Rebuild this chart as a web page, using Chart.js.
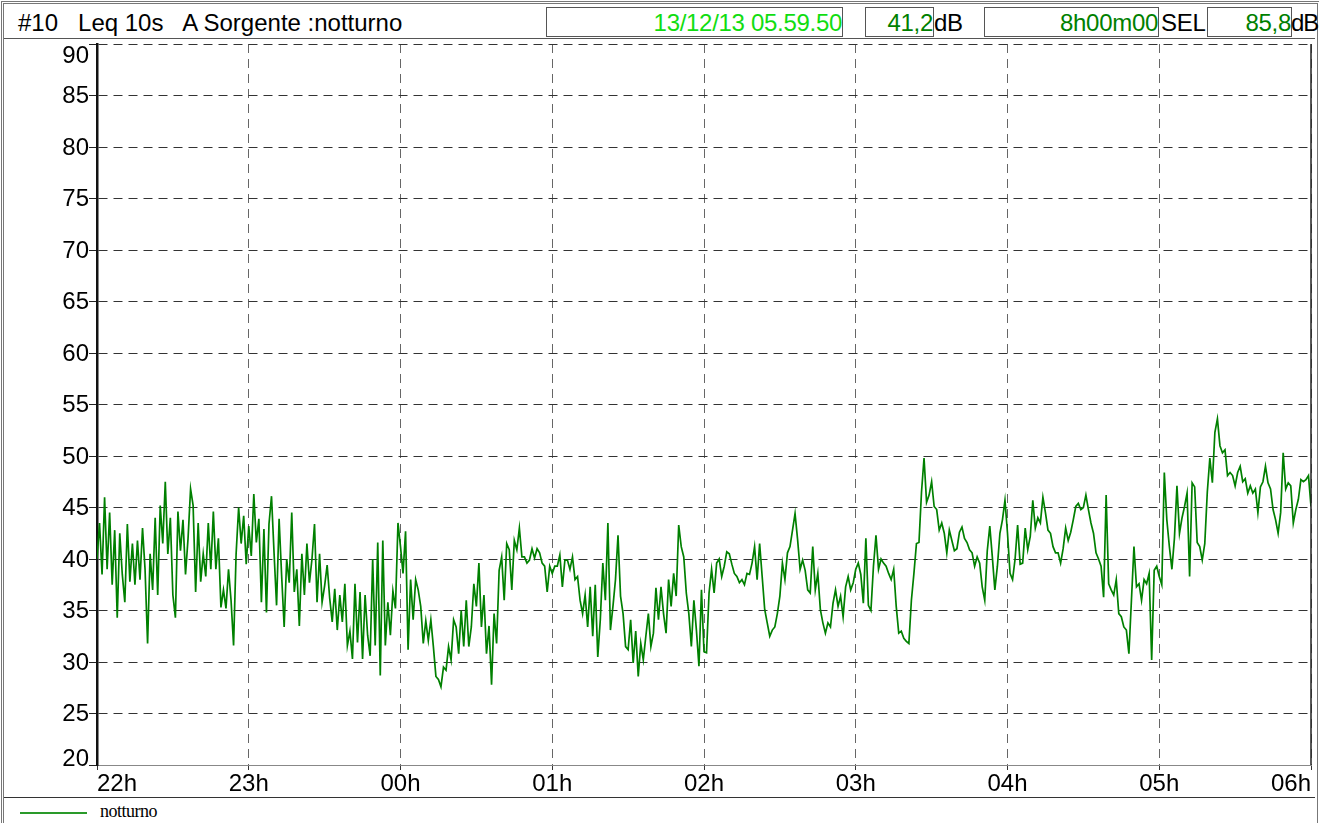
<!DOCTYPE html>
<html>
<head>
<meta charset="utf-8">
<script src="https://cdn.jsdelivr.net/npm/chart.js@4.4.1/dist/chart.umd.min.js"></script>
<style>
  html, body { margin: 0; padding: 0; background: #fff; }
  #page { position: relative; width: 1319px; height: 823px; overflow: hidden; background: #fff;
          font-family: "Liberation Sans", Arial, sans-serif; }
  #frame { position: absolute; left: 1px; top: 1px; width: 1313px; height: 830px;
           border: 3px double #777; box-sizing: content-box; }
  #header { position: absolute; left: 4px; top: 4px; width: 1311px; height: 34px;
            border-bottom: 1px solid #555; }
  .txt { position: absolute; top: 4px; font-size: 24px; line-height: 30px; white-space: pre; color: #000; letter-spacing: -0.3px; }
  .box { position: absolute; top: 3px; height: 30px; border: 1px solid #555; box-sizing: border-box;
         font-size: 24px; line-height: 29px; text-align: right; white-space: pre; color: #008000; letter-spacing: -0.3px; }
  #chartWrap { position: absolute; left: 4px; top: 38px; width: 1311px; height: 759px; }
  #legend { position: absolute; left: 4px; top: 797px; width: 1311px; height: 26px; border-top: 1px solid #333; }
  #legend .line { position: absolute; left: 16px; top: 14px; width: 67px; height: 0; border-top: 2px solid #2a9a2a; }
  #legend .lbl { position: absolute; left: 96px; top: 3px; font-family: "Liberation Serif", "Times New Roman", serif;
                 font-size: 18px; letter-spacing: -0.5px; color: #000; }
</style>
</head>
<body>
<div id="page">
  <div id="frame"></div>
  <div id="header">
    <div class="txt" style="left:14px;letter-spacing:0">#10   Leq 10s   A Sorgente :notturno</div>
    <div class="box" style="left:542px;width:297px;color:#11dd11">13/12/13 05.59.50</div>
    <div class="box" style="left:861px;width:69px">41,2</div>
    <div class="txt" style="left:930px">dB</div>
    <div class="box" style="left:980px;width:175px">8h00m00</div>
    <div class="txt" style="left:1157px">SEL</div>
    <div class="box" style="left:1203px;width:85px">85,8</div>
    <div class="txt" style="left:1287px;letter-spacing:-1px">dB</div>
  </div>
  <div id="chartWrap"><canvas id="chart"></canvas></div>
  <div id="legend"><div class="line"></div><div class="lbl">notturno</div></div>
</div>
<script>
// Leq 10s A, one value per minute
const hour22 = [40.0, 43.5, 38.5, 46.0, 39.0, 44.5, 37.5, 42.8, 34.3, 42.5, 38.5, 35.8, 43.4, 37.8, 41.5,
  37.5, 41.8, 38.0, 43.0, 39.0, 31.8, 40.5, 37.0, 44.0, 36.5, 45.2, 41.5, 47.5, 40.5, 44.0,
  36.5, 34.3, 44.6, 40.8, 43.8, 38.5, 42.0, 46.8, 45.2, 36.8, 43.5, 37.8, 40.5, 38.3, 43.5,
  39.0, 44.6, 39.0, 42.0, 35.3, 37.0, 35.2, 39.0, 36.0, 31.6, 40.5, 45.0, 41.5, 44.2, 39.5];
const hour23 = [43.2, 40.3, 46.3, 41.6, 43.9, 35.8, 42.9, 34.8, 43.4, 46.1, 40.6, 35.5, 43.9, 38.4, 33.4,
  40.0, 37.7, 44.5, 36.8, 39.0, 33.5, 40.5, 36.5, 41.5, 37.7, 40.0, 43.4, 35.8, 40.5, 35.8,
  37.4, 39.4, 36.2, 33.9, 37.1, 33.1, 36.5, 33.9, 37.6, 31.6, 33.0, 30.3, 37.6, 31.9, 36.8,
  30.3, 36.5, 32.6, 30.6, 40.0, 31.6, 41.6, 28.7, 41.8, 31.6, 35.8, 32.6, 36.9, 35.2, 43.5];
const hour00 = [41.2, 38.6, 42.7, 31.2, 38.0, 34.1, 38.0, 37.0, 35.4, 31.8, 34.0, 32.1, 34.1, 31.5, 28.6,
  28.3, 27.6, 29.5, 29.2, 31.5, 30.2, 34.1, 33.4, 30.8, 35.0, 31.5, 36.0, 31.5, 33.4, 37.6,
  35.4, 39.6, 33.4, 36.5, 30.8, 33.5, 27.8, 34.7, 31.8, 38.9, 40.2, 36.0, 41.5, 40.9, 37.0,
  41.8, 40.9, 43.0, 40.2, 40.2, 39.6, 39.9, 41.0, 40.1, 41.0, 40.6, 39.6, 39.3, 36.8, 39.3];
const hour01 = [38.6, 39.3, 39.3, 40.4, 37.3, 39.9, 39.9, 39.0, 40.2, 38.0, 38.3, 36.0, 34.7, 36.5, 33.4,
  37.3, 32.5, 37.5, 30.5, 34.1, 39.6, 36.0, 43.5, 33.1, 35.4, 38.0, 42.3, 36.4, 34.7, 31.5,
  31.2, 34.1, 29.9, 33.0, 28.6, 31.8, 30.2, 32.5, 34.7, 31.5, 32.8, 37.2, 34.1, 37.3, 34.7,
  32.8, 38.0, 35.4, 38.6, 36.4, 43.3, 41.2, 40.2, 36.7, 34.7, 31.5, 36.0, 33.1, 29.6, 37.0];
const hour02 = [31.0, 30.9, 36.7, 39.0, 36.7, 39.6, 40.0, 38.3, 39.3, 40.7, 40.5, 39.5, 38.6, 38.3, 37.7,
  38.0, 37.5, 38.6, 38.5, 39.6, 41.2, 38.0, 41.5, 38.3, 35.1, 33.8, 32.5, 33.1, 33.4, 34.7,
  36.4, 39.6, 38.0, 40.6, 41.2, 42.8, 44.4, 41.9, 39.0, 39.9, 38.9, 37.0, 36.7, 41.2, 37.0,
  38.6, 35.1, 33.8, 32.8, 33.8, 33.4, 35.7, 37.0, 35.4, 36.4, 34.4, 37.3, 38.3, 37.0, 37.7];
const hour03 = [39.0, 39.6, 38.5, 35.7, 42.0, 35.5, 35.0, 39.3, 42.3, 39.0, 40.0, 39.6, 39.3, 38.6, 38.0,
  39.0, 35.4, 32.8, 33.0, 32.3, 32.0, 31.8, 36.0, 38.6, 41.5, 41.6, 46.5, 49.8, 45.5, 46.2,
  47.5, 45.1, 44.8, 42.8, 43.5, 42.5, 40.6, 42.8, 41.8, 40.8, 41.0, 42.6, 43.1, 42.0, 41.6,
  40.9, 40.6, 39.3, 40.2, 39.6, 37.3, 36.0, 40.8, 43.2, 40.2, 37.0, 39.3, 42.5, 43.8, 45.7];
const hour04 = [42.5, 38.6, 38.0, 40.0, 43.3, 39.5, 39.6, 43.0, 40.9, 42.2, 45.7, 43.0, 44.0, 43.5, 46.0,
  44.5, 42.8, 42.5, 41.2, 40.6, 40.6, 39.6, 41.0, 43.0, 41.8, 42.6, 43.8, 45.1, 45.4, 44.8,
  45.0, 46.2, 44.8, 43.5, 42.5, 40.6, 40.0, 39.3, 36.3, 46.2, 37.6, 37.0, 36.5, 38.0, 34.7,
  34.4, 33.4, 33.1, 30.8, 36.0, 41.2, 37.3, 37.6, 36.0, 38.0, 37.6, 38.6, 30.2, 38.9, 39.3];
const hour05 = [38.3, 37.5, 48.4, 43.8, 41.2, 39.0, 42.0, 47.1, 42.5, 44.0, 45.1, 46.4, 38.3, 47.4, 47.0,
  41.6, 41.2, 39.9, 41.5, 46.5, 49.8, 47.4, 52.3, 53.6, 51.0, 50.3, 50.6, 48.1, 48.4, 48.1,
  47.1, 48.4, 49.0, 47.5, 47.8, 46.4, 47.1, 46.4, 46.8, 44.5, 47.0, 47.5, 49.0, 47.4, 46.8,
  44.8, 43.8, 42.5, 44.5, 50.3, 46.8, 47.4, 47.1, 43.5, 44.8, 45.8, 47.7, 47.5, 47.7, 48.1, 45.1];

const hourLabels = ['22h', '23h', '00h', '01h', '02h', '03h', '04h', '05h', '06h'];
const yTicks = [20, 25, 30, 35, 40, 45, 50, 55, 60, 65, 70, 75, 80, 85, 90];
const seriesName = 'notturno';

const leq = [].concat(hour22, hour23, hour00, hour01, hour02, hour03, hour04, hour05);
const points = leq.map((v, i) => ({ x: i, y: v }));

const axisFont = '"Liberation Sans", Arial, sans-serif';

// y labels drawn by hand so the end labels sit inside the plot like the original
const yLabelPlugin = {
    id: 'yLabels',
    afterDraw(chart) {
        const ctx = chart.ctx;
        const y = chart.scales.y;
        const area = chart.chartArea;
        ctx.save();
        ctx.font = '24px ' + axisFont;
        ctx.fillStyle = '#000';
        ctx.textAlign = 'right';
        yTicks.forEach((t, i) => {
            const py = y.getPixelForValue(t);
            if (i === yTicks.length - 1) {
                ctx.textBaseline = 'alphabetic';
                ctx.fillText(String(t), area.left - 8, py + 19);
            } else if (i === 0) {
                ctx.textBaseline = 'alphabetic';
                ctx.fillText(String(t), area.left - 8, py + 1);
            } else {
                ctx.textBaseline = 'middle';
                ctx.fillText(String(t), area.left - 8, py + 1);
            }
        });
        // solid right border of the plot
        ctx.strokeStyle = '#222';
        ctx.lineWidth = 1.5;
        ctx.beginPath();
        ctx.moveTo(area.right, area.top);
        ctx.lineTo(area.right, area.bottom);
        ctx.stroke();
        ctx.restore();
    }
};

document.addEventListener('DOMContentLoaded', function() {
    const ctx = document.getElementById('chart');
    new Chart(ctx, {
        type: 'line',
        data: {
            datasets: [{
                label: seriesName,
                data: points,
                borderColor: '#008000',
                borderWidth: 1.7,
                pointRadius: 0,
                tension: 0,
                fill: false
            }]
        },
        options: {
            responsive: true,
            maintainAspectRatio: false,
            animation: false,
            events: [],
            layout: { padding: { top: 6, right: 4, left: 0, bottom: 0 } },
            plugins: { legend: { display: false }, tooltip: { enabled: false } },
            scales: {
                x: {
                    type: 'linear',
                    min: 0,
                    max: 480,
                    afterFit: function(scale) { scale.height = 32; },
                    afterBuildTicks: function(scale) {
                        scale.ticks = hourLabels.map((l, i) => ({ value: i * 60 }));
                    },
                    ticks: {
                        align: 'inner',
                        maxRotation: 0,
                        autoSkip: false,
                        padding: 0,
                        color: '#000',
                        font: { family: axisFont, size: 24 },
                        callback: function(value) { return hourLabels[Math.round(value / 60)]; }
                    },
                    grid: { color: '#666', lineWidth: 1, tickLength: 5, tickColor: '#333', tickBorderDash: [] },
                    border: { display: true, color: '#888', width: 1, dash: [9, 6] }
                },
                y: {
                    type: 'linear',
                    min: 20,
                    max: 90,
                    afterFit: function(scale) { scale.width = 93; },
                    afterBuildTicks: function(scale) {
                        scale.ticks = yTicks.map(v => ({ value: v }));
                    },
                    ticks: { display: false },
                    grid: { color: '#333', lineWidth: 1, tickLength: 8, tickColor: '#222', tickBorderDash: [] },
                    border: { display: true, color: '#111', width: 2.5, dash: [9, 6] }
                }
            }
        },
        plugins: [yLabelPlugin]
    });
});
</script>
</body>
</html>
